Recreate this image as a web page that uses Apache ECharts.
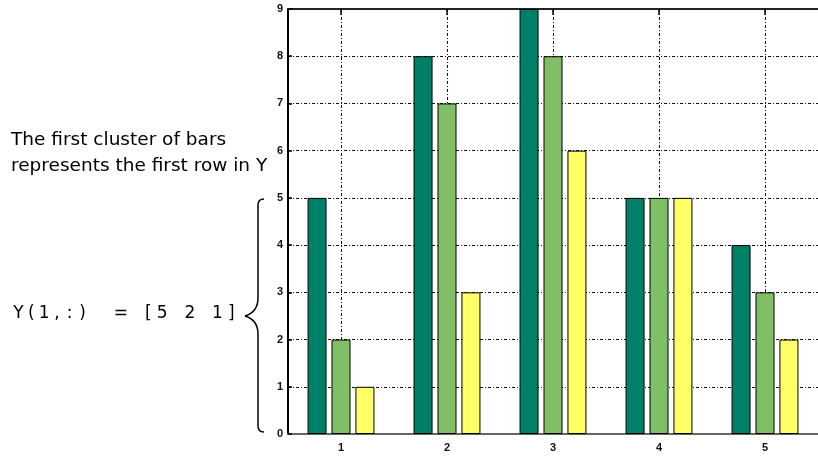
<!DOCTYPE html>
<html><head><meta charset="utf-8">
<script src="https://cdn.jsdelivr.net/npm/echarts@6/dist/echarts.min.js"></script>
<style>html,body{margin:0;padding:0;background:#fff}#c{width:818px;height:456px}</style>
</head><body><div id="c"></div>
<script>
// ---- data ----
const categories = ['1', '2', '3', '4', '5'];
const series1 = [5, 8, 9, 5, 4];
const series2 = [2, 7, 8, 5, 3];
const series3 = [1, 3, 6, 5, 2];
const yMin = 0, yMax = 9, yInterval = 1;
const noteLines = ['The first cluster of bars', 'represents the first row in Y'];
const codeText = 'Y(1,:) = [5 2 1]';

// ---- styles ----
const colors = ['#008066', '#80BF66', '#FFFF66'];
const gridDash = [3, 2, 1, 2];

const chart = echarts.init(document.getElementById('c'), null, {renderer: 'canvas'});

// code text laid out in fixed-width cells (as in the reference rendering)
const codeRich = codeText.split('').map((ch, i) => {
  const s = i < 6 ? 'a' : (i === 6 ? 'w' : 'b');
  return '{' + s + '|' + ch + '}';
}).join('');
const codeFont = {fontFamily: 'DejaVu Sans', fontSize: 17, fill: '#000', align: 'center'};

function barSeries(name, data, color) {
  return {
    name, type: 'bar', data,
    barWidth: 19, barGap: '26%',
    itemStyle: {color, borderColor: '#000', borderWidth: 1},
    emphasis: {disabled: true},
    z: 2
  };
}

const braceStyle = {stroke: '#000', fill: null, lineWidth: 1.5};
const tickLabel = {fontSize: 11, fontWeight: 'bold', color: '#111', fontFamily: 'Liberation Sans'};

chart.setOption({
  animation: false,
  backgroundColor: '#fff',
  grid: {left: 288, top: 9, width: 538, height: 425, containLabel: false},
  xAxis: [{
    type: 'category', data: categories, position: 'bottom',
    axisLine: {show: true, lineStyle: {color: '#666', width: 2}},
    axisTick: {show: true, inside: true, length: 5, alignWithLabel: true, lineStyle: {color: '#000', width: 1}},
    axisLabel: Object.assign({margin: 8}, tickLabel),
    splitLine: {show: true, alignWithLabel: true, lineStyle: {color: '#111', width: 1, type: gridDash}}
  }, {
    type: 'category', data: categories, position: 'top',
    axisLine: {show: true, lineStyle: {color: '#222', width: 2}},
    axisTick: {show: true, inside: true, length: 6, alignWithLabel: true, lineStyle: {color: '#000', width: 1.5}},
    axisLabel: {show: false},
    splitLine: {show: false}
  }],
  yAxis: {
    type: 'value', min: yMin, max: yMax, interval: yInterval,
    axisLine: {show: true, lineStyle: {color: '#000', width: 2}},
    axisTick: {show: true, inside: true, length: 4, lineStyle: {color: '#000', width: 1.5}},
    axisLabel: Object.assign({margin: 5}, tickLabel),
    splitLine: {show: true, lineStyle: {color: '#111', width: 1, type: gridDash}}
  },
  series: [
    barSeries('Column 1', series1, colors[0]),
    barSeries('Column 2', series2, colors[1]),
    barSeries('Column 3', series3, colors[2])
  ],
  graphic: [
    {type: 'text', x: 11, y: 140, style: {text: noteLines[0], fontFamily: 'DejaVu Sans', fontSize: 18.5, fill: '#000', verticalAlign: 'middle'}},
    {type: 'text', x: 11, y: 166, style: {text: noteLines[1], fontFamily: 'DejaVu Sans', fontSize: 18.5, fill: '#000', verticalAlign: 'middle'}},
    {type: 'text', x: 12.1, y: 314, style: {
      text: codeRich, fill: '#000', verticalAlign: 'middle',
      rich: {
        a: Object.assign({width: 12.8}, codeFont),
        w: Object.assign({width: 25}, codeFont),
        b: Object.assign({width: 13.8}, codeFont)
      }
    }},
    {type: 'bezierCurve', shape: {x1: 264, y1: 199, x2: 258, y2: 205, cpx1: 258, cpy1: 199}, style: braceStyle},
    {type: 'line', shape: {x1: 258, y1: 205, x2: 258, y2: 298}, style: braceStyle},
    {type: 'bezierCurve', shape: {x1: 258, y1: 298, x2: 245, y2: 316, cpx1: 258, cpy1: 312}, style: braceStyle},
    {type: 'bezierCurve', shape: {x1: 245, y1: 316, x2: 258, y2: 334, cpx1: 258, cpy1: 320}, style: braceStyle},
    {type: 'line', shape: {x1: 258, y1: 334, x2: 258, y2: 426}, style: braceStyle},
    {type: 'bezierCurve', shape: {x1: 258, y1: 426, x2: 264, y2: 432, cpx1: 258, cpy1: 432}, style: braceStyle}
  ]
});
</script>
</body></html>
